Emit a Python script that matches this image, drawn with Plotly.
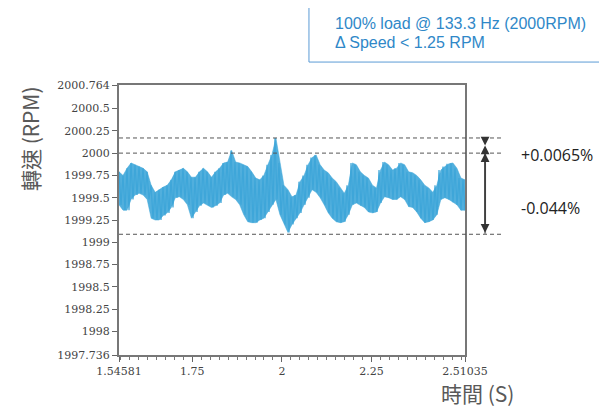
import numpy as np
import plotly.graph_objects as go

# ---- data ----
t_start, t_end = 1.54581, 2.51035
# upper envelope of the speed trace (RPM), equally spaced in time
upper = [1999.79, 1999.75, 1999.83, 1999.89, 1999.87, 1999.85, 1999.83, 1999.79, 1999.64, 1999.56,
         1999.59, 1999.62, 1999.64, 1999.70, 1999.79, 1999.81, 1999.83, 1999.79, 1999.73, 1999.73,
         1999.79, 1999.83, 1999.79, 1999.73, 1999.79, 1999.83, 1999.89, 1999.90, 2000.03, 1999.90,
         1999.89, 1999.87, 1999.85, 1999.79, 1999.72, 1999.70, 1999.75, 1999.87, 1999.98, 2000.17,
         1999.89, 1999.64, 1999.59, 1999.51, 1999.53, 1999.68, 1999.75, 1999.87, 1999.95, 1999.98,
         1999.87, 1999.81, 1999.78, 1999.72, 1999.68, 1999.61, 1999.55, 1999.64, 1999.89, 1999.87,
         1999.79, 1999.75, 1999.72, 1999.64, 1999.61, 1999.81, 1999.90, 1999.87, 1999.81, 1999.83,
         1999.89, 1999.87, 1999.79, 1999.78, 1999.75, 1999.70, 1999.64, 1999.61, 1999.56, 1999.64,
         1999.81, 1999.85, 1999.88, 1999.89, 1999.83, 1999.72, 1999.70]
# lower envelope of the speed trace (RPM)
lower = [1999.42, 1999.36, 1999.36, 1999.48, 1999.53, 1999.55, 1999.53, 1999.48, 1999.27, 1999.25,
         1999.25, 1999.30, 1999.33, 1999.39, 1999.50, 1999.51, 1999.48, 1999.42, 1999.27, 1999.34,
         1999.41, 1999.44, 1999.41, 1999.39, 1999.41, 1999.44, 1999.53, 1999.55, 1999.51, 1999.48,
         1999.42, 1999.31, 1999.23, 1999.22, 1999.22, 1999.25, 1999.27, 1999.34, 1999.42, 1999.48,
         1999.31, 1999.20, 1999.11, 1999.20, 1999.27, 1999.33, 1999.42, 1999.50, 1999.59, 1999.56,
         1999.50, 1999.42, 1999.33, 1999.27, 1999.23, 1999.22, 1999.23, 1999.31, 1999.42, 1999.44,
         1999.41, 1999.39, 1999.34, 1999.33, 1999.34, 1999.44, 1999.51, 1999.50, 1999.48, 1999.48,
         1999.51, 1999.48, 1999.40, 1999.39, 1999.34, 1999.27, 1999.22, 1999.23, 1999.25, 1999.31,
         1999.48, 1999.50, 1999.48, 1999.45, 1999.42, 1999.36, 1999.36]

x_ticks = [1.54581, 1.75, 2, 2.25, 2.51035]
x_ticklabels = ["1.54581", "1.75", "2", "2.25", "2.51035"]
y_ticks = [1997.736, 1998, 1998.25, 1998.5, 1998.75, 1999, 1999.25, 1999.5, 1999.75,
           2000, 2000.25, 2000.5, 2000.764]
y_ticklabels = ["1997.736", "1998", "1998.25", "1998.5", "1998.75", "1999", "1999.25",
                "1999.5", "1999.75", "2000", "2000.25", "2000.5", "2000.764"]
ref_max, ref_nominal, ref_min = 2000.17, 2000.0, 1999.09
pct_plus, pct_minus = "+0.0065%", "-0.044%"
info_lines = ["100% load @ 133.3 Hz (2000RPM)", "Δ Speed < 1.25 RPM"]

blue = "#3ea6d9"
t_env = np.linspace(t_start, t_end, len(upper))
# interleave peaks and troughs into one jittery trace
speed = []
for u, l in zip(upper, lower):
    speed.extend([u, l])
time = np.linspace(t_start, t_end, len(speed))

fig = go.Figure()
fig.add_trace(go.Scatter(x=t_env, y=lower, mode="lines", line=dict(color=blue, width=0.5),
                         hoverinfo="skip"))
fig.add_trace(go.Scatter(x=t_env, y=upper, mode="lines", line=dict(color=blue, width=0.5),
                         fill="tonexty", fillcolor="rgba(62,166,217,0.9)", hoverinfo="skip"))
fig.add_trace(go.Scatter(x=time, y=speed, mode="lines",
                         line=dict(color=blue, width=1.2), hoverinfo="skip"))

tick_font = dict(family="DejaVu Serif", size=11, color="#444")
fig.update_xaxes(range=[t_start, t_end], tickvals=x_ticks, ticktext=x_ticklabels,
                 ticks="outside", ticklen=5, tickcolor="#666", tickwidth=1,
                 minor=dict(dtick=0.025, ticks="outside", ticklen=3, tickcolor="#777"),
                 showline=True, linecolor="#777", linewidth=2, mirror=True,
                 showgrid=False, zeroline=False, tickfont=tick_font)
fig.update_yaxes(range=[1997.736, 2000.764], tickvals=y_ticks, ticktext=y_ticklabels,
                 ticks="outside", ticklen=5, tickcolor="#666", tickwidth=1,
                 showline=True, linecolor="#777", linewidth=2, mirror=True,
                 showgrid=False, zeroline=False, tickfont=tick_font)

# dashed reference lines
for yv in [ref_max, ref_nominal, ref_min]:
    fig.add_shape(type="line", xref="paper", yref="y", x0=0, x1=1.11, y0=yv, y1=yv,
                  line=dict(color="#555", width=1, dash="4px,3px"))

arrow_x = 1.058
# large double arrow
fig.add_shape(type="line", xref="paper", yref="y", x0=arrow_x, x1=arrow_x,
              y0=ref_nominal, y1=ref_min, line=dict(color="#999", width=2))
fig.add_annotation(xref="paper", yref="y", x=arrow_x, y=ref_nominal, ayref="y", ay=ref_min,
                   axref="pixel", ax=0, text="", showarrow=True, arrowhead=2, arrowside="end+start",
                   arrowsize=1.1, arrowwidth=1.6, arrowcolor="#333", standoff=0, startstandoff=0)
# small arrow pair (hourglass)
mid = (ref_max + ref_nominal) / 2
for y_from in [ref_max, ref_nominal]:
    fig.add_annotation(xref="paper", yref="y", x=arrow_x, y=mid, ayref="y", ay=y_from,
                       axref="pixel", ax=0, text="", showarrow=True, arrowhead=2,
                       arrowsize=1.1, arrowwidth=1.6, arrowcolor="#333", standoff=0)

pct_font = dict(family="Open Sans", size=16, color="#222")
fig.add_annotation(xref="paper", yref="y", x=1.156, y=1999.98, text=pct_plus, showarrow=False,
                   xanchor="left", yanchor="middle", font=pct_font)
fig.add_annotation(xref="paper", yref="y", x=1.156, y=1999.385, text=pct_minus, showarrow=False,
                   xanchor="left", yanchor="middle", font=pct_font)

# info box
fig.add_shape(type="rect", xref="paper", yref="paper", x0=0.549, x1=1.43, y0=1.085, y1=1.3037,
              line=dict(color="#5b9bd5", width=1), fillcolor="rgba(0,0,0,0)")
info_font = dict(family="Liberation Sans", size=16, color="#2f88c8")
fig.add_annotation(xref="paper", yref="paper", x=0.618, y=1.226, text=info_lines[0],
                   showarrow=False, xanchor="left", yanchor="middle", font=info_font)
fig.add_annotation(xref="paper", yref="paper", x=0.618, y=1.156, text=info_lines[1],
                   showarrow=False, xanchor="left", yanchor="middle", font=info_font)

title_font = dict(family="Noto Sans CJK TC", size=21, color="#595959")
fig.add_annotation(xref="paper", yref="paper", x=-0.257, y=0.8, text="轉速 (RPM)", textangle=-90,
                   showarrow=False, xanchor="center", yanchor="middle", font=title_font)
fig.add_annotation(xref="paper", yref="paper", x=0.925, y=-0.142, text="時間 (S)",
                   showarrow=False, xanchor="left", yanchor="middle", font=title_font)

# the page body adds an 8px offset, so the figure is 8px smaller and margins shifted
fig.update_layout(width=599, height=402, margin=dict(l=111, r=142, t=77, b=55),
                  paper_bgcolor="white", plot_bgcolor="white", showlegend=False)
fig.write_html("out.html")
